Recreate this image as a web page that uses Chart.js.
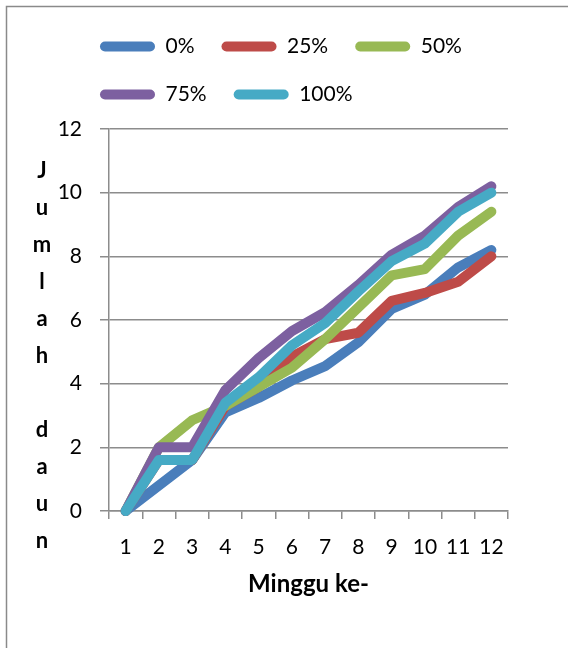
<!DOCTYPE html>
<html>
<head>
<meta charset="utf-8">
<style>
  html, body { margin: 0; padding: 0; background: #fff; }
  #wrap { width: 568px; height: 648px; }
</style>
<script src="https://cdn.jsdelivr.net/npm/chart.js@4"></script>
</head>
<body>
<div id="wrap"><canvas id="myChart" width="568" height="648"></canvas></div>
<script>
// data
var weeks = ['1', '2', '3', '4', '5', '6', '7', '8', '9', '10', '11', '12'];
var seriesNames = ['0%', '25%', '50%', '75%', '100%'];
var seriesColors = ['#4A7EBB', '#BE4B48', '#98B954', '#7D60A0', '#46AAC5'];
var s0 = [0, 0.8, 1.6, 3.1, 3.55, 4.1, 4.55, 5.3, 6.35, 6.8, 7.65, 8.2];
var s25 = [0, 1.6, 1.6, 3.3, 3.9, 4.85, 5.4, 5.6, 6.6, 6.85, 7.2, 8.0];
var s50 = [0, 2.0, 2.85, 3.3, 3.9, 4.5, 5.4, 6.4, 7.4, 7.6, 8.65, 9.4];
var s75 = [0, 2.0, 2.0, 3.8, 4.8, 5.65, 6.25, 7.1, 8.05, 8.65, 9.55, 10.2];
var s100 = [0, 1.6, 1.6, 3.4, 4.2, 5.2, 5.9, 6.9, 7.85, 8.4, 9.4, 10.0];
var seriesValues = [s0, s25, s50, s75, s100];
var yTitle = 'Jumlah daun';
var xTitle = 'Minggu ke-';

Chart.defaults.font.family = 'Lato, "Liberation Sans", sans-serif';
Chart.defaults.font.size = 21;
Chart.defaults.color = '#000';

var gridColor = '#8c8c8c';

var datasets = seriesNames.map(function (name, i) {
    return {
        label: name,
        data: seriesValues[i],
        borderColor: seriesColors[i],
        backgroundColor: seriesColors[i],
        borderWidth: 10,
        borderJoinStyle: 'round',
        borderCapStyle: 'round',
        pointRadius: 0,
        tension: 0,
        clip: false,
        order: seriesNames.length - i   // last series on top, like Excel
    };
});

// frame top/left, legend gap, letter-per-line y title
var extras = {
    id: 'extras',
    beforeInit: function (chart) {
        var fit = chart.legend.fit;
        chart.legend.fit = function () {
            fit.bind(chart.legend)();
            this.height += 14;
        };
    },
    afterLayout: function (chart) {
        chart.legend.left += 18;
        chart.legend.right += 18;
    },
    afterDraw: function (chart) {
        var ctx = chart.ctx;
        ctx.save();
        ctx.strokeStyle = '#8a8a8a';
        ctx.lineWidth = 1.5;
        ctx.beginPath();
        ctx.moveTo(6.5, 648);
        ctx.lineTo(6.5, 6.5);
        ctx.lineTo(568, 6.5);
        ctx.stroke();

        ctx.fillStyle = '#000';
        ctx.font = 'bold 22px Lato, "Liberation Sans", sans-serif';
        ctx.textAlign = 'center';
        ctx.textBaseline = 'alphabetic';
        var chars = yTitle.split('');
        for (var k = 0; k < chars.length; k++) {
            ctx.fillText(chars[k], 42, 178 + k * 37);
        }
        ctx.restore();
    }
};

var ctx = document.getElementById('myChart').getContext('2d');
var myChart = new Chart(ctx, {
    type: 'line',
    data: {
        labels: weeks,
        datasets: datasets
    },
    options: {
        responsive: false,
        animation: false,
        layout: {
            padding: { left: 55, right: 60, top: 9, bottom: 49 }
        },
        plugins: {
            legend: {
                position: 'top',
                align: 'start',
                labels: {
                    boxWidth: 55,
                    boxHeight: 10,
                    padding: 27,
                    useBorderRadius: true,
                    borderRadius: 5,
                    font: { size: 21 },
                    sort: function (a, b) { return a.datasetIndex - b.datasetIndex; },
                    generateLabels: function (chart) {
                        return Chart.defaults.plugins.legend.labels.generateLabels(chart).map(function (l) {
                            l.lineWidth = 0;
                            return l;
                        });
                    }
                }
            },
            tooltip: { enabled: false }
        },
        scales: {
            x: {
                offset: true,
                grid: {
                    offset: true,
                    drawOnChartArea: false,
                    color: gridColor,
                    lineWidth: 1.5,
                    tickLength: 8
                },
                border: { display: true, color: gridColor, width: 1.5 },
                ticks: { padding: 16, maxRotation: 0, autoSkip: false },
                title: {
                    display: true,
                    text: xTitle,
                    font: { weight: 'bold', size: 24 },
                    padding: 0
                },
                afterFit: function (scale) { scale.height = 88; }
            },
            y: {
                min: 0,
                max: 12,
                ticks: { stepSize: 2, padding: 18 },
                grid: {
                    color: gridColor,
                    lineWidth: 1.5,
                    tickLength: 9
                },
                border: { display: true, color: gridColor, width: 1.5 },
                afterFit: function (scale) { scale.width = 54; }
            }
        }
    },
    plugins: [extras]
});
</script>
</body>
</html>
